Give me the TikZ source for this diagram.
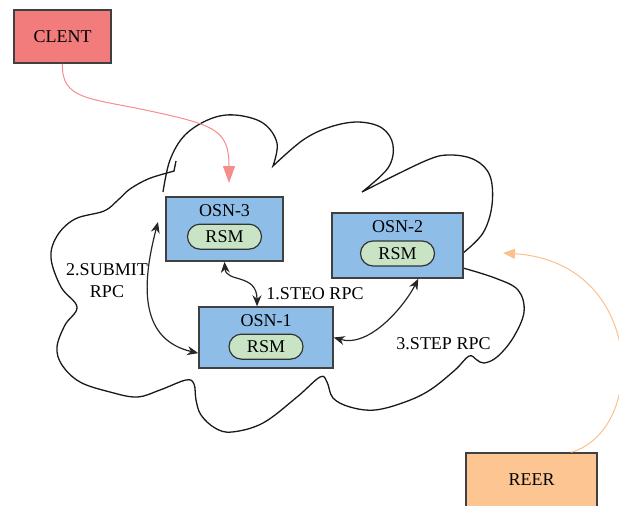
\documentclass[tikz,border=0pt]{standalone}
\usepackage{fontspec}
\setmainfont{Liberation Serif}
\usepackage{xcolor}
\usetikzlibrary{positioning,arrows.meta}
\definecolor{osnblue}{RGB}{142,190,232}
\definecolor{rsmgreen}{RGB}{200,228,197}
\definecolor{clientred}{RGB}{242,124,124}
\definecolor{reerorange}{RGB}{252,197,146}
\definecolor{linkpink}{RGB}{246,140,140}
\definecolor{linkorange}{RGB}{250,192,142}
\tikzset{
	txt/.style = {inner sep=0pt, font=\fontsize{9}{11}\selectfont},
	box/.style = {txt, draw=black!75, line width=0.75pt},
	osn/.style = {box, fill=osnblue},
	rsm/.style = {txt, draw=black!80, line width=0.6pt, fill=rsmgreen, rounded corners=6.25pt, minimum width=37pt, minimum height=12.5pt},
	rpc/.style = {line width=0.6pt, black!85, {Stealth[length=5.5pt,width=4.5pt]}-{Stealth[length=5.5pt,width=4.5pt]}},
	cloudline/.style = {line width=0.65pt, black!90},
}

\begin{document}
\begin{tikzpicture}[x=0.5pt, y=-0.5pt]
	\useasboundingbox (0,0) rectangle (619,505);
	
	% cloud
	\draw[cloudline] (176,161) -- (174,171) -- plot[smooth, tension=0.6] coordinates {(167,173) (148,179) (130,189) (118,200) (104,211) (75,219) (57,236) (51,258) (61,287) (77,307) (65,325) (57,347) (62,365) (80,382) (110,392) (137,397) (160,390) (186,380) (194,384) (196,400) (201,415) (215,428) (232,432) (263,423) (297,397) (320,377) (327,382) (333,398) (350,407) (375,410) (405,402) (430,390) (455,370) (469,356) (477,360) (484,363) (497,357) (513,338) (524,312) (518,290) (495,278) (463,268)};
	\draw[cloudline] plot[smooth, tension=0.6] coordinates {(463,253) (483,233) (492,205) (490,176) (475,160) (450,155) (425,161) (362,192)}
		-- plot[smooth, tension=0.6] coordinates {(362,192) (388,168) (393,145) (382,128) (358,122) (330,127) (303,140) (273,166)}
		-- plot[smooth, tension=0.6] coordinates {(273,166) (277,143) (263,123) (235,115) (210,119) (185,135) (170,160) (163,192)};
	
	% servers
	\node[osn, minimum width=58.5pt, minimum height=32pt] (osn3) at (224.5,229) {};
	\node[txt, below=4pt of osn3.north] (osn3title) {OSN-3};
	\node[rsm, below=3.2pt of osn3title] (rsm3) {RSM};
	\node[osn, minimum width=65.5pt, minimum height=32.5pt] (osn2) at (397.5,245.5) {};
	\node[txt, below=4.2pt of osn2.north] (osn2title) {OSN-2};
	\node[rsm, below=3.4pt of osn2title] (rsm2) {RSM};
	\node[osn, minimum width=67pt, minimum height=30.5pt] (osn1) at (266,337.5) {};
	\node[txt, below=4pt of osn1.north] (osn1title) {OSN-1};
	\node[rsm, below=3.2pt of osn1title] (rsm1) {RSM};
	
	\node[box, fill=clientred, minimum width=48.5pt, minimum height=26.5pt] (client) at (62.5,36.5) {CLENT};
	\node[box, fill=reerorange, minimum width=65.5pt, minimum height=27pt] (reer) at (531.5,480) {REER};
	
	\coordinate (c3in) at (229,183);
	\coordinate (c2in) at (503,253);
	\coordinate (s1) at (158,222);
	
	\draw[linkpink, line width=0.5pt, -{Triangle[length=8.5pt,width=6pt]}] (client.south) .. controls (61,100) and (90,98) .. (150,111) .. controls (215,125) and (229,130) .. (c3in);
	\draw[linkorange, line width=0.5pt, -{Triangle[length=6pt,width=5pt]}] (reer.35) .. controls (648,430) and (645,262) .. (c2in);
	\draw[rpc] (osn3.south) .. controls (226,283) and (257,273) .. (osn1.106);
	\draw[rpc] (osn1.east) .. controls (370,348) and (405,305) .. (osn2.-58);
	\draw[rpc] (s1) .. controls (140,290) and (142,340) .. (osn1.193);
	
	\node[txt, align=center] (submitlbl) at (107,281) {2.SUBMIT\\RPC};
	\node[txt] (steolbl) at (315,293.5) {1.STEO RPC};
	\node[txt] (steplbl) at (443.5,344) {3.STEP RPC};
\end{tikzpicture}
\end{document}
